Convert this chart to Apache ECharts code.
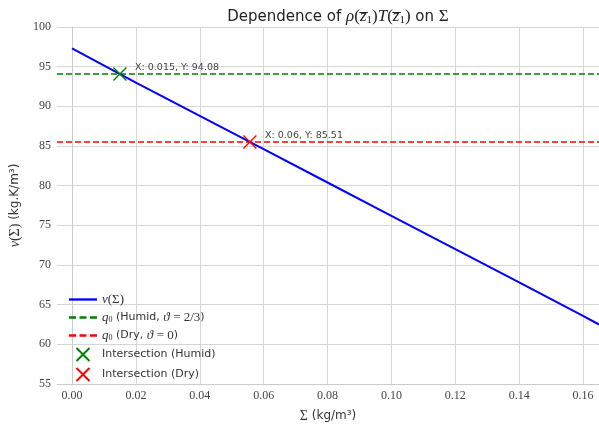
<!DOCTYPE html>
<html>
<head>
    <meta charset="utf-8">
    <script src="https://cdn.jsdelivr.net/npm/echarts@6/dist/echarts.min.js"></script>
    <style>
        html, body { margin: 0; padding: 0; background: #fff; }
        #chart { width: 599px; height: 428px; }
    </style>
</head>
<body>
    <div id="chart"></div>
    <script>
        // values
        var sigma = [0.00, 0.02, 0.04, 0.06, 0.08, 0.10, 0.12, 0.14, 0.16, 0.165];
        var nu = [97.3, 93.0, 88.8, 84.6, 80.4, 76.2, 72.0, 67.8, 63.6, 62.5];
        var qHumid = 94.08;
        var qDry = 85.51;
        var hitHumid = [0.015, 94.08];
        var hitDry = [0.0557, 85.51];
        var hitLabels = ['X: 0.015, Y: 94.08', 'X: 0.06, Y: 85.51'];
        var xTicks = [0.00, 0.02, 0.04, 0.06, 0.08, 0.10, 0.12, 0.14, 0.16];

        var xMin = -0.0047, xMax = 0.165;

        var chart = echarts.init(document.getElementById('chart'));

        var serif = 'Liberation Serif';
        var sans = 'DejaVu Sans';
        var mathRich = {
            m: { fontFamily: serif, fontStyle: 'italic', fontSize: 14, color: '#333' },
            r: { fontFamily: serif, fontSize: 14, color: '#333' },
            s: { fontFamily: serif, fontSize: 9, color: '#333', verticalAlign: 'bottom', padding: [6, 0, 0, 0] }
        };

        var legendText = {
            nu: '{m|ν}{r|(Σ)}',
            humid: '{m|q}{s|0} (Humid, {m|ϑ} {r|= 2/3})',
            dry: '{m|q}{s|0} (Dry, {m|ϑ} {r|= 0})',
            ih: 'Intersection (Humid)',
            id: 'Intersection (Dry)'
        };

        var crossPath = 'path://M0,0L10,10M10,0L0,10';
        var solidIcon = 'path://M0,0h24v2h-24z';
        var dashIcon = 'path://M0,0h6v2h-6zM9,0h6v2h-6zM18,0h6v2h-6z';

        function lineLabel(text) {
            return {
                show: true,
                position: 'right',
                distance: 8,
                offset: [0, -6],
                formatter: function () { return text; },
                fontFamily: sans,
                fontSize: 9.5,
                color: '#444'
            };
        }

        var option = {
            animation: false,
            backgroundColor: '#fff',
            title: {
                text: 'Dependence of {m|ρ}{r|(}{m|z̅}{s|1}{r|)}{m|T}{r|(}{m|z̅}{s|1}{r|)} on {r|Σ}',
                left: 333,
                textAlign: 'center',
                top: 3,
                textStyle: {
                    fontFamily: sans,
                    fontSize: 15,
                    fontWeight: 'normal',
                    color: '#222',
                    rich: {
                        m: { fontFamily: serif, fontStyle: 'italic', fontSize: 17, color: '#222' },
                        r: { fontFamily: serif, fontSize: 17, color: '#222' },
                        s: { fontFamily: serif, fontSize: 11, color: '#222', verticalAlign: 'bottom', padding: [7, 0, 0, 0] }
                    }
                }
            },
            grid: { left: 57, right: 0, top: 27, bottom: 39 },
            legend: {
                orient: 'vertical',
                left: 64,
                top: 288,
                itemWidth: 28,
                itemHeight: 13,
                itemGap: 5,
                data: [
                    { name: 'nu', icon: solidIcon, itemStyle: { color: '#0000ff' } },
                    { name: 'humid', icon: dashIcon, itemStyle: { color: '#008000' } },
                    { name: 'dry', icon: dashIcon, itemStyle: { color: '#ff0000' } },
                    { name: 'ih' },
                    { name: 'id' }
                ],
                formatter: function (name) { return legendText[name]; },
                textStyle: {
                    fontFamily: sans,
                    fontSize: 11,
                    color: '#333',
                    rich: {
                        m: { fontFamily: serif, fontStyle: 'italic', fontSize: 13, color: '#333' },
                        r: { fontFamily: serif, fontSize: 13, color: '#333' },
                        s: { fontFamily: serif, fontSize: 8, color: '#333', verticalAlign: 'bottom', padding: [5, 0, 0, 0] }
                    }
                }
            },
            xAxis: {
                type: 'value',
                min: xMin,
                max: xMax,
                name: '{r|Σ} (kg/m³)',
                nameLocation: 'middle',
                nameGap: 25,
                nameTextStyle: { fontFamily: sans, fontSize: 12, color: '#333', rich: mathRich },
                axisLine: { show: true, lineStyle: { color: '#ccc', width: 1 } },
                axisTick: { show: false, customValues: xTicks },
                axisLabel: {
                    customValues: xTicks,
                    formatter: function (v) { return v.toFixed(2); },
                    fontFamily: serif,
                    fontSize: 12,
                    color: '#444',
                    margin: 6
                },
                splitLine: { show: true, lineStyle: { color: '#d6d6d6', width: 1 } }
            },
            yAxis: {
                type: 'value',
                min: 55,
                max: 100,
                interval: 5,
                name: '{m|ν}{r|(Σ)} (kg.K/m³)',
                nameLocation: 'middle',
                nameGap: 32,
                nameTextStyle: { fontFamily: sans, fontSize: 12, color: '#333', rich: mathRich },
                axisLine: { show: true, lineStyle: { color: '#ccc', width: 1 } },
                axisTick: { show: false },
                axisLabel: { fontFamily: serif, fontSize: 12, color: '#444', margin: 6 },
                splitLine: { show: true, lineStyle: { color: '#d6d6d6', width: 1 } }
            },
            series: [
                {
                    name: 'nu',
                    type: 'line',
                    symbol: 'none',
                    data: sigma.map(function (s, i) { return [s, nu[i]]; }),
                    lineStyle: { color: '#0000ff', width: 2 },
                    itemStyle: { color: '#0000ff' },
                    z: 3
                },
                {
                    name: 'humid',
                    type: 'line',
                    symbol: 'none',
                    data: [[xMin, qHumid], [xMax, qHumid]],
                    lineStyle: { color: '#008000', width: 1.6, type: [6, 3] },
                    itemStyle: { color: '#008000' },
                    z: 2
                },
                {
                    name: 'dry',
                    type: 'line',
                    symbol: 'none',
                    data: [[xMin, qDry], [xMax, qDry]],
                    lineStyle: { color: '#ff0000', width: 1.6, type: [6, 3] },
                    itemStyle: { color: '#ff0000' },
                    z: 2
                },
                {
                    name: 'ih',
                    type: 'scatter',
                    symbol: crossPath,
                    symbolSize: 13,
                    data: [hitHumid],
                    itemStyle: { color: '#008000', borderColor: '#008000', borderWidth: 1.3, opacity: 1 },
                    label: lineLabel(hitLabels[0]),
                    z: 5
                },
                {
                    name: 'id',
                    type: 'scatter',
                    symbol: crossPath,
                    symbolSize: 13,
                    data: [hitDry],
                    itemStyle: { color: '#ff0000', borderColor: '#ff0000', borderWidth: 1.3, opacity: 1 },
                    label: lineLabel(hitLabels[1]),
                    z: 5
                }
            ]
        };

        chart.setOption(option);
    </script>
</body>
</html>
